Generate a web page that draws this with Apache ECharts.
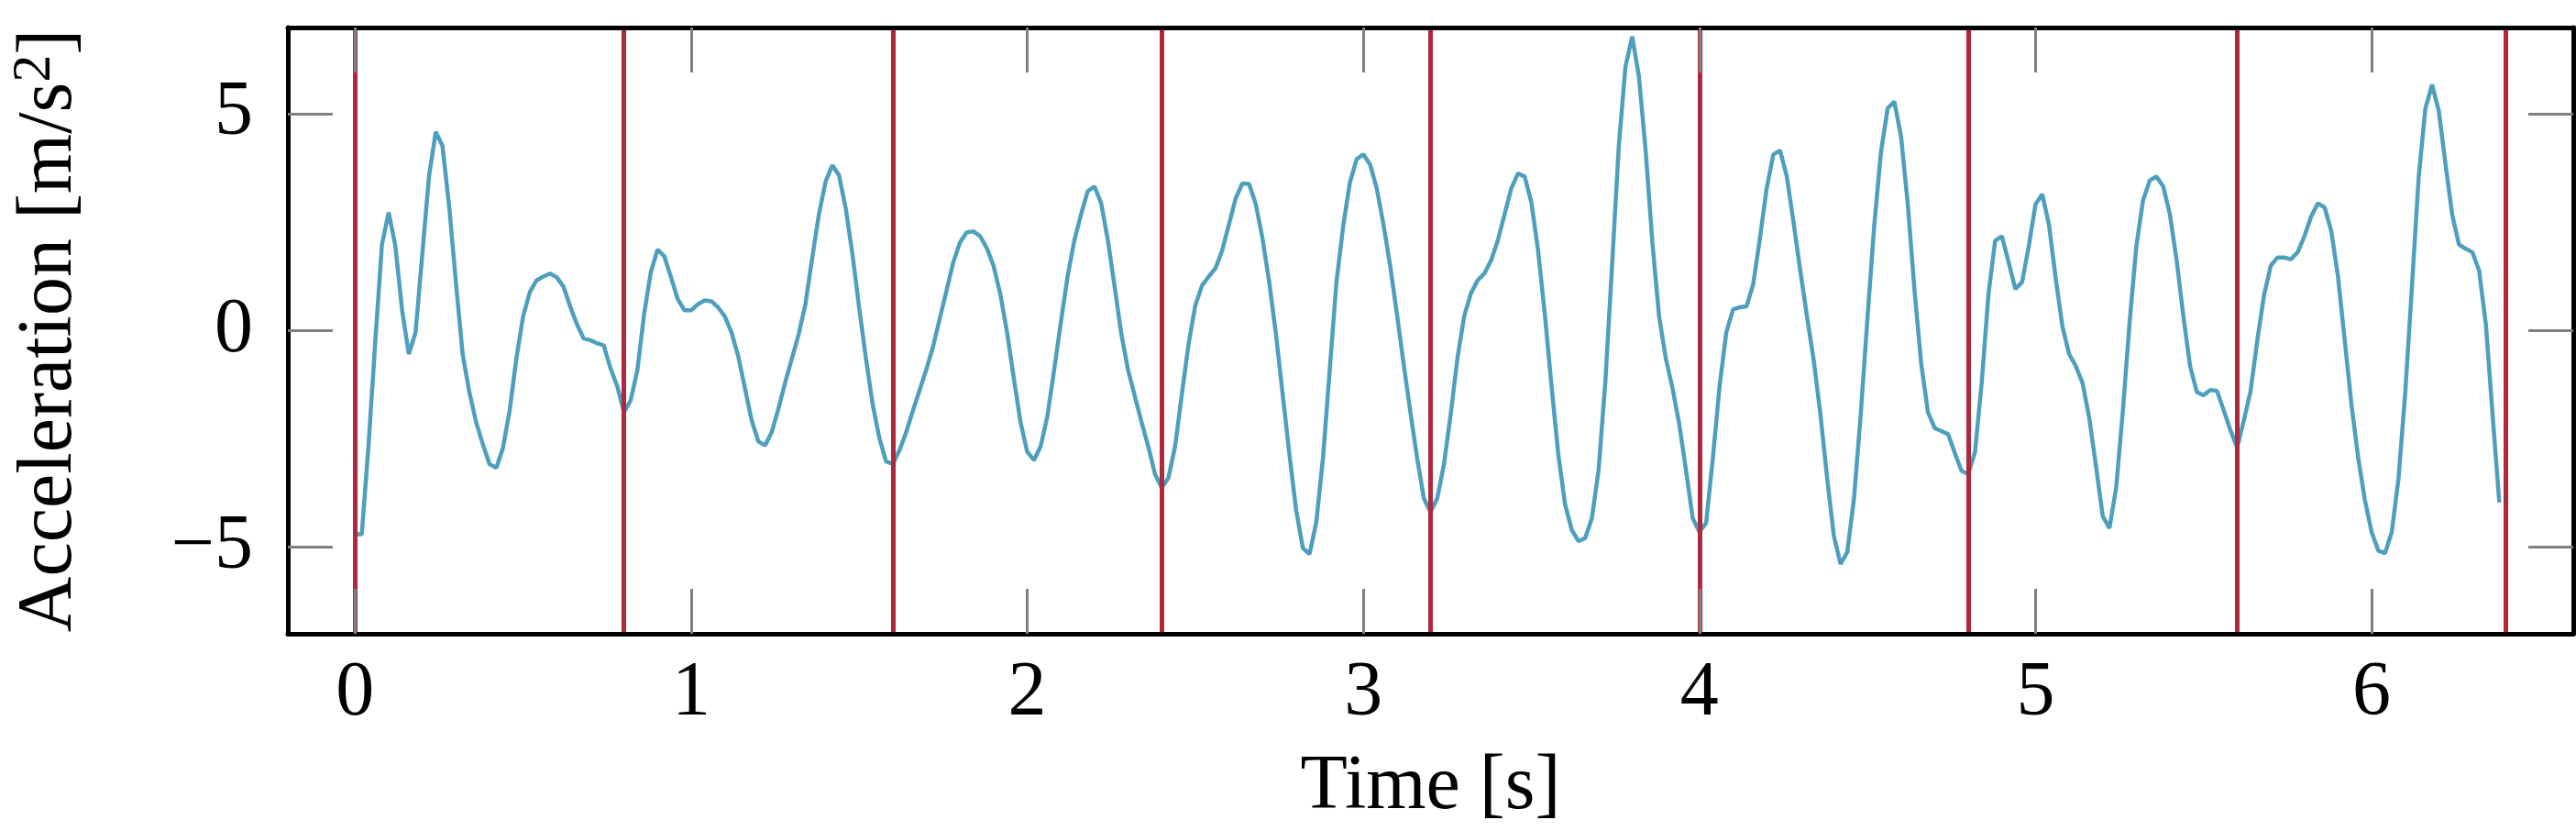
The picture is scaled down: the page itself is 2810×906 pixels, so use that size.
<!DOCTYPE html>
<html>
<head>
<meta charset="utf-8">
<script src="https://cdn.jsdelivr.net/npm/echarts@6/dist/echarts.min.js"></script>
<style>
  html, body { margin: 0; padding: 0; background: #fff; }
  #chart { width: 2810px; height: 906px; }
</style>
</head>
<body>
<div id="chart"></div>
<script>
// sampling step of the recording (s)
const sampleStep = 0.02;

// acceleration samples [m/s^2], one array per 0.8 s window between the red markers
const window0 = [-4.70, -4.70, -2.65, -0.27, 1.99, 2.73, 1.95, 0.47, -0.54, -0.04,
  1.76, 3.56, 4.59, 4.27, 2.87, 1.12, -0.54, -1.42, -2.11, -2.62,
  -3.08, -3.17, -2.71, -1.84, -0.64, 0.33, 0.89, 1.16, 1.25, 1.32,
  1.23, 1.02, 0.56, 0.15, -0.18, -0.22, -0.29, -0.34, -0.87, -1.28];
const window1 = [-1.88, -1.61, -0.91, 0.38, 1.35, 1.87, 1.72, 1.23, 0.73, 0.47,
  0.47, 0.61, 0.70, 0.68, 0.54, 0.33, -0.04, -0.59, -1.33, -2.07,
  -2.56, -2.65, -2.34, -1.79, -1.19, -0.64, -0.08, 0.61, 1.67, 2.68,
  3.44, 3.82, 3.59, 2.82, 1.76, 0.52, -0.64, -1.70, -2.48, -3.02];
const window2 = [-3.08, -2.76, -2.34, -1.84, -1.37, -0.89, -0.36, 0.29, 0.93, 1.58,
  2.04, 2.27, 2.29, 2.18, 1.90, 1.49, 0.84, -0.04, -1.10, -2.11,
  -2.80, -2.99, -2.67, -1.97, -0.91, 0.19, 1.25, 2.08, 2.68, 3.22,
  3.33, 2.94, 2.08, 1.02, -0.08, -0.91, -1.51, -2.11, -2.67, -3.31];
const window3 = [-3.63, -3.40, -2.67, -1.47, -0.31, 0.58, 1.04, 1.25, 1.44, 1.85,
  2.45, 3.05, 3.40, 3.39, 2.92, 2.13, 1.12, -0.08, -1.47, -2.85,
  -4.14, -5.02, -5.16, -4.42, -2.94, -0.91, 1.12, 2.41, 3.42, 3.96,
  4.07, 3.84, 3.28, 2.45, 1.49, 0.38, -0.77, -1.88, -2.94, -3.87];
const window4 = [-4.19, -3.87, -3.08, -1.93, -0.64, 0.33, 0.86, 1.16, 1.32, 1.62,
  2.08, 2.68, 3.28, 3.63, 3.56, 2.96, 1.85, 0.38, -1.28, -2.85,
  -4.00, -4.60, -4.86, -4.79, -4.33, -3.22, -1.19, 1.49, 4.25, 6.10,
  6.79, 5.87, 4.16, 2.04, 0.33, -0.64, -1.33, -2.16, -3.22, -4.33];
const window5 = [-4.65, -4.44, -2.94, -1.28, -0.04, 0.49, 0.54, 0.56, 1.07, 2.13,
  3.28, 4.07, 4.16, 3.56, 2.50, 1.39, 0.33, -0.68, -1.93, -3.40,
  -4.74, -5.39, -5.11, -3.87, -1.93, 0.29, 2.41, 4.11, 5.13, 5.29,
  4.48, 2.92, 0.93, -0.77, -1.88, -2.25, -2.32, -2.39, -2.83, -3.24];
const window6 = [-3.31, -2.80, -1.19, 0.84, 2.08, 2.18, 1.58, 0.96, 1.12, 1.95,
  2.92, 3.15, 2.45, 1.21, 0.10, -0.54, -0.82, -1.21, -2.02, -3.13,
  -4.28, -4.56, -3.63, -1.84, 0.19, 1.95, 3.01, 3.47, 3.56, 3.33,
  2.68, 1.62, 0.33, -0.82, -1.42, -1.49, -1.37, -1.39, -1.84, -2.30];
const window7 = [-2.70, -2.07, -1.39, -0.22, 0.82, 1.50, 1.69, 1.69, 1.65, 1.81,
  2.18, 2.63, 2.94, 2.85, 2.30, 1.25, -0.22, -1.70, -2.93, -3.91,
  -4.65, -5.08, -5.14, -4.65, -3.42, -1.45, 1.01, 3.53, 5.13, 5.68,
  5.07, 3.84, 2.67, 1.99, 1.89, 1.81, 1.38, 0.15, -1.94, -3.97];

// red window boundaries (s)
const windowEdges = [0, 0.8, 1.6, 2.4, 3.2, 4.0, 4.8, 5.6, 6.4];

// tick values
const xTicks = [0, 1, 2, 3, 4, 5, 6];
const yTicks = [-5, 0, 5];

const accel = [].concat(window0, window1, window2, window3, window4, window5, window6, window7);
const points = accel.map((a, i) => [+(i * sampleStep).toFixed(2), a]);

const FONT = 'Liberation Serif';
const tickStyle = { inside: true, length: 49, lineStyle: { color: '#808080', width: 3 } };
const frame = { show: true, onZero: false, lineStyle: { color: '#000', width: 5 } };

var chart = echarts.init(document.getElementById('chart'));

chart.setOption({
  animation: false,
  backgroundColor: '#fff',
  grid: { left: 313, right: 3, top: 30, bottom: 209 },
  xAxis: [
    {
      type: 'value',
      min: -0.2,
      max: 6.6,
      z: 10,
      name: 'Time [s]',
      nameLocation: 'middle',
      nameGap: 126,
      nameTextStyle: { fontFamily: FONT, fontSize: 84, color: '#000' },
      axisLine: frame,
      axisTick: Object.assign({ customValues: xTicks }, tickStyle),
      axisLabel: { customValues: xTicks, margin: 24, fontFamily: FONT, fontSize: 84, color: '#000' },
      splitLine: { show: false }
    },
    {
      type: 'value',
      position: 'top',
      min: -0.2,
      max: 6.6,
      z: 10,
      axisLine: frame,
      axisTick: Object.assign({ customValues: xTicks }, tickStyle),
      axisLabel: { show: false },
      splitLine: { show: false }
    }
  ],
  yAxis: [
    {
      type: 'value',
      min: -7,
      max: 7,
      z: 10,
      name: 'Acceleration [m/s{sup|2}]',
      nameLocation: 'middle',
      nameGap: 212,
      nameTextStyle: {
        fontFamily: FONT, fontSize: 84, color: '#000',
        rich: { sup: { fontFamily: FONT, fontSize: 60, color: '#000', verticalAlign: 'bottom', padding: [0, 0, 34, 0] } }
      },
      axisLine: frame,
      axisTick: Object.assign({ customValues: yTicks }, tickStyle),
      axisLabel: {
        customValues: yTicks, margin: 38, fontFamily: FONT, fontSize: 84, color: '#000',
        formatter: v => v < 0 ? '\u2212' + Math.abs(v) : String(v)
      },
      splitLine: { show: false }
    },
    {
      type: 'value',
      position: 'right',
      min: -7,
      max: 7,
      z: 10,
      axisLine: frame,
      axisTick: Object.assign({ customValues: yTicks }, tickStyle),
      axisLabel: { show: false },
      splitLine: { show: false }
    }
  ],
  series: [
    {
      type: 'line',
      data: points,
      symbol: 'none',
      z: 3,
      lineStyle: { color: '#4e9fbd', width: 4.5 },
      itemStyle: { color: '#4e9fbd' }
    },
    {
      // red window markers, drawn above the signal
      type: 'line',
      data: [],
      z: 5,
      markLine: {
        silent: true,
        symbol: ['none', 'none'],
        label: { show: false },
        lineStyle: { color: '#b0283c', width: 5, type: 'solid' },
        data: windowEdges.map(x => ({ xAxis: x }))
      }
    }
  ]
});
</script>
</body>
</html>
